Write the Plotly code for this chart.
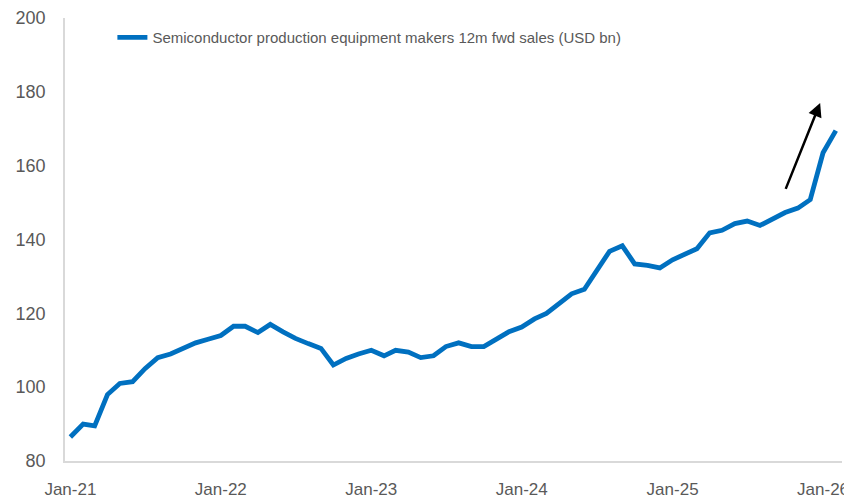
import pandas as pd
import plotly.graph_objects as go

# monthly, Jan-21 .. Feb-26
months = pd.date_range("2021-01-01", "2026-02-01", freq="MS")

sales_usd_bn = [
    86.5, 90.0, 89.5, 98.0, 101.0, 101.5, 105.0, 108.0, 109.0, 110.5, 112.0, 113.0,   # 2021
    114.0, 116.5, 116.5, 114.8, 117.0, 115.0, 113.2, 111.8, 110.5, 106.0, 107.8, 109.0,  # 2022
    110.0, 108.5, 110.0, 109.5, 108.0, 108.5, 111.0, 112.0, 111.0, 111.0, 113.0, 115.0,  # 2023
    116.3, 118.5, 120.0, 122.5, 125.3, 126.5, 131.6, 136.8, 138.3, 133.4, 133.0, 132.3,  # 2024
    134.5, 136.0, 137.5, 141.8, 142.5, 144.3, 145.0, 143.8, 145.4, 147.3, 148.5, 150.8,  # 2025
    163.5, 169.5,  # 2026
]

tick_dates = ["2021-01-01", "2022-01-01", "2023-01-01", "2024-01-01", "2025-01-01", "2026-01-01"]
tick_labels = ["Jan-21", "Jan-22", "Jan-23", "Jan-24", "Jan-25", "Jan-26"]
y_ticks = [80, 100, 120, 140, 160, 180, 200]

series_name = "Semiconductor production equipment makers 12m fwd sales (USD bn)"

# arrow (tail -> head) in data units
arrow_tail = ("2025-10-01", 153.3)
arrow_head = ("2025-12-25", 177.0)

fig = go.Figure()

fig.add_trace(
    go.Scatter(
        x=months, y=sales_usd_bn,
        mode="lines",
        name=series_name,
        line=dict(color="#0070C0", width=4.8),
    )
)

fig.add_annotation(
    x=arrow_head[0], y=arrow_head[1],
    ax=arrow_tail[0], ay=arrow_tail[1],
    xref="x", yref="y", axref="x", ayref="y",
    text="",
    showarrow=True,
    arrowhead=2, arrowsize=1.1, arrowwidth=2.5,
    arrowcolor="black",
)

# page body has an 8px margin, so the figure is sized/offset to fit the window
fig.update_layout(
    width=844, height=491,
    margin=dict(l=57, r=10, t=10, b=38),
    plot_bgcolor="white",
    paper_bgcolor="white",
    font=dict(family="Liberation Sans, Arial, sans-serif", size=18, color="#595959"),
    showlegend=True,
    legend=dict(
        x=0.061, y=0.993, xanchor="left", yanchor="top",
        bgcolor="rgba(0,0,0,0)",
        font=dict(family="Liberation Sans, Arial", size=15, color="#595959"),
    ),
)

fig.update_xaxes(
    range=["2020-12-19", "2026-02-16"],
    tickvals=tick_dates,
    ticktext=tick_labels,
    tickfont=dict(size=17),
    showgrid=False, zeroline=False,
    showline=True, linecolor="#D9D9D9", linewidth=1.5,
    ticks="", ticklabelstandoff=12,
    ticklabeloverflow="allow",
    automargin=False,
)

fig.update_yaxes(
    range=[80, 200],
    tickvals=y_ticks,
    showgrid=False, zeroline=False,
    showline=True, linecolor="#D9D9D9", linewidth=1.5,
    ticks="", ticklabelstandoff=14,
    ticklabeloverflow="allow",
    automargin=False,
)

fig.write_html("out.html")
